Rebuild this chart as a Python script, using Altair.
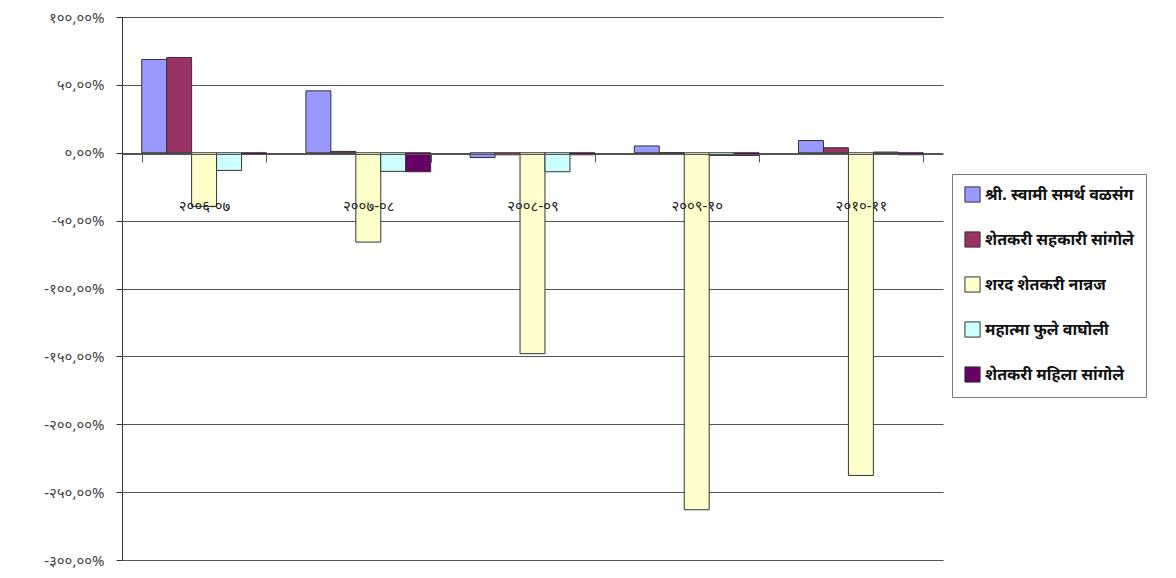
import altair as alt
import pandas as pd

years = ["२००६-०७", "२००७-०८", "२००८-०९", "२००९-१०", "२०१०-११"]
series = [
    "श्री. स्वामी समर्थ वळसंग",
    "शेतकरी सहकारी सांगोले",
    "शरद शेतकरी नान्नज",
    "महात्मा फुले वाघोली",
    "शेतकरी महिला सांगोले",
]
colors = ["#9999FF", "#993366", "#FFFFCC", "#CCFFFF", "#660066"]

# values in percent, per series, one per year
swami = [68.7, 45.6, -3.5, 5.0, 9.0]
sahakari = [70.2, 1.0, -1.5, 0.0, 3.7]
sharad = [-39.5, -65.8, -148.0, -263.0, -237.7]
phule = [-13.0, -13.7, -14.0, -2.0, 0.5]
mahila = [-1.0, -14.0, -1.5, -2.0, -1.5]

tick_values = [100, 50, 0, -50, -100, -150, -200, -250, -300]

deva = str.maketrans("0123456789", "०१२३४५६७८९")


def fmt(v):
    return f"{v:.2f}".replace(".", ",").translate(deva) + "%"


label_expr = ""
for v in tick_values:
    label_expr += f"datum.value == {v} ? '{fmt(v)}' : "
label_expr += "''"

rows = []
for name, vals in zip(series, [swami, sahakari, sharad, phule, mahila]):
    for y, v in zip(years, vals):
        rows.append({"year": y, "series": name, "value": v})
df = pd.DataFrame(rows)

FONT = "Noto Sans"

H = 543

bars = alt.Chart(df).mark_bar(stroke="#333333", strokeWidth=1).encode(
    x=alt.X(
        "year:N",
        sort=years,
        scale=alt.Scale(paddingInner=0.24, paddingOuter=0.12),
        axis=alt.Axis(
            title=None,
            orient="bottom",
            offset=-(H * 3 // 4) + 1,
            domainColor="#555555",
            tickColor="#555555",
            tickSize=8,
            tickBand="extent",
            labelPadding=36,
            labelFontSize=15,
            labelColor="#222222",
            labelAngle=0,
            grid=False,
            zindex=1,
        ),
    ),
    xOffset=alt.XOffset("series:N", sort=series),
    y=alt.Y(
        "value:Q",
        scale=alt.Scale(domain=[-300, 100], nice=False, zero=False),
        axis=alt.Axis(
            title=None,
            values=tick_values,
            labelExpr=label_expr,
            grid=True,
            gridColor="#555555",
            gridWidth=1,
            domainColor="#333333",
            tickColor="#333333",
            tickSize=6,
            labelFontSize=15,
            labelColor="#444444",
            labelPadding=12,
        ),
    ),
    color=alt.Color(
        "series:N",
        sort=series,
        scale=alt.Scale(domain=series, range=colors),
        legend=alt.Legend(
            title=None,
            orient="none",
            legendX=830,
            legendY=157,
            symbolType="square",
            symbolSize=230,
            symbolStrokeColor="#333333",
            symbolStrokeWidth=1,
            labelFontSize=16,
            labelFontWeight="bold",
            labelColor="#111111",
            labelLimit=300,
            rowPadding=24,
            padding=12,
            strokeColor="#777777",
            fillColor="white",
        ),
    ),
)

chart = bars.properties(
    width=821,
    height=H,
    autosize=alt.AutoSizeParams(type="none"),
    padding={"left": 114, "top": 9, "right": 220, "bottom": 8},
).configure(font=FONT).configure_view(stroke=None)

chart.save("out.html", embed_options={"renderer": "svg", "actions": False})
